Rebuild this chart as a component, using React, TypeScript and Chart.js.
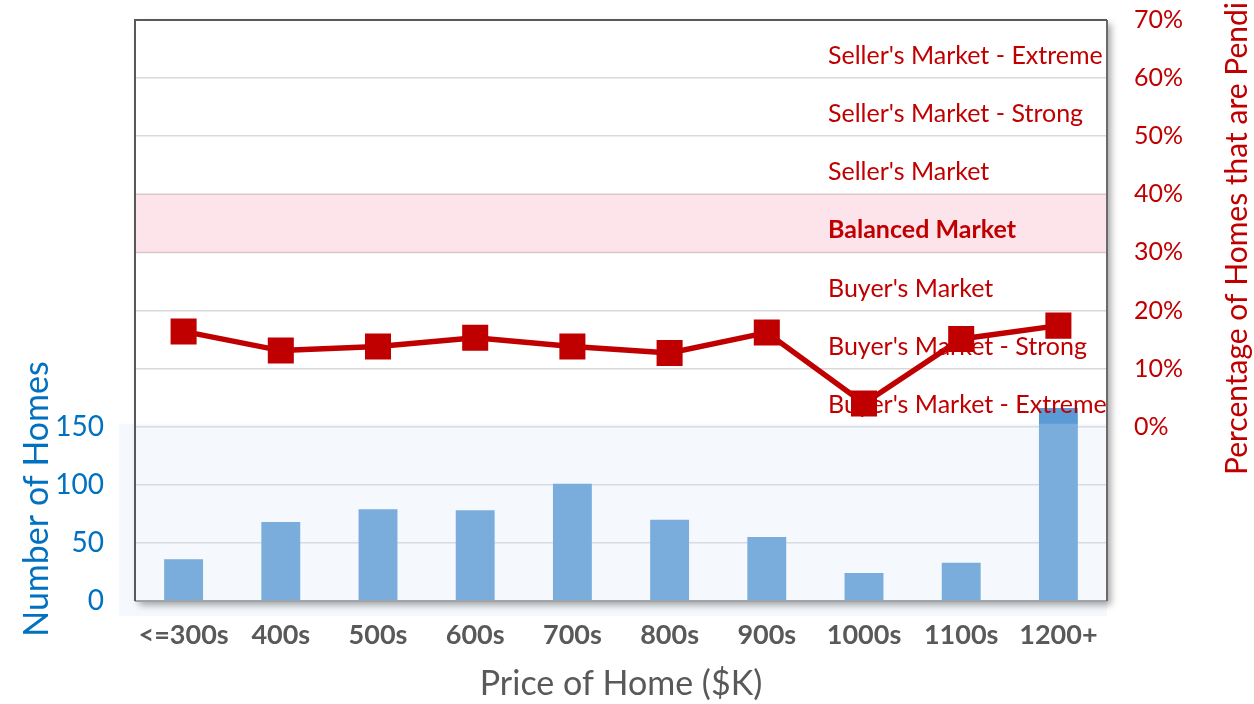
import { useEffect, useRef } from "react";
import { Chart, registerables } from "chart.js";

Chart.register(...registerables);

const categories = ["<=300s", "400s", "500s", "600s", "700s", "800s", "900s", "1000s", "1100s", "1200+"];
const homeCounts = [36, 68, 79, 78, 101, 70, 55, 24, 33, 166];
const pendingPct = [16.4, 13.1, 13.8, 15.3, 13.8, 12.7, 16.2, 4.0, 15.1, 17.4];
const countTicks = [0, 50, 100, 150];
const bandLabels = [
  "Seller's Market - Extreme",
  "Seller's Market - Strong",
  "Seller's Market",
  "Balanced Market",
  "Buyer's Market",
  "Buyer's Market - Strong",
  "Buyer's Market - Extreme",
];
const bandLows = [60, 50, 40, 30, 20, 10, 0];
const balancedLow = 30;
const balancedHigh = 40;

const FONT = "Lato, 'Open Sans', sans-serif";
const RED = "#C00000";
const BLUE = "#0070C0";
const GRAY = "#595959";

const decor = {
  id: "decor",
  beforeDatasetsDraw(chart: any) {
    const { ctx, chartArea: a, scales } = chart;
    const yR = scales.yR;
    const yTop = yR.getPixelForValue(balancedHigh);
    const yBot = yR.getPixelForValue(balancedLow);
    ctx.save();
    ctx.fillStyle = "#FDE4EA";
    ctx.fillRect(a.left, yTop, a.right - a.left, yBot - yTop);
    ctx.strokeStyle = "#DCC6CC";
    ctx.lineWidth = 1.5;
    ctx.beginPath();
    ctx.moveTo(a.left, yTop);
    ctx.lineTo(a.right, yTop);
    ctx.moveTo(a.left, yBot);
    ctx.lineTo(a.right, yBot);
    ctx.stroke();
    ctx.restore();
  },
  afterDatasetDraw(chart: any, args: any) {
    if (args.meta.type !== "bar") return;
    const { ctx, chartArea: a, scales } = chart;
    const yL = scales.yL;
    const yR = scales.yR;
    ctx.save();
    const pTop = yL.getPixelForValue(150) - 3;
    ctx.fillStyle = "rgba(215,227,243,0.25)";
    ctx.fillRect(119, pTop, a.right - 119, a.bottom + 15 - pTop);
    ctx.fillStyle = RED;
    ctx.textAlign = "left";
    ctx.textBaseline = "middle";
    bandLabels.forEach((lab, i) => {
      const mid = bandLows[i] + 5;
      const y = yR.getPixelForValue(mid) + 7;
      ctx.font = (bandLows[i] === balancedLow ? "bold " : "") + "25px " + FONT;
      ctx.fillText(lab, 828, y);
    });
    ctx.restore();
  },
  afterDraw(chart: any) {
    const { ctx, chartArea: a, width: W, height: H } = chart;
    ctx.save();
    ctx.beginPath();
    ctx.rect(0, 0, W, H);
    ctx.rect(a.left, a.top, a.right - a.left, a.bottom - a.top);
    ctx.clip("evenodd");
    ctx.shadowColor = "rgba(0,0,0,0.35)";
    ctx.shadowBlur = 7;
    ctx.shadowOffsetX = 4;
    ctx.shadowOffsetY = 4;
    ctx.fillStyle = "#ffffff";
    ctx.fillRect(a.left, a.top, a.right - a.left, a.bottom - a.top);
    ctx.restore();

    ctx.save();
    ctx.lineWidth = 2;
    ctx.strokeStyle = "#A0A3A8";
    ctx.beginPath();
    ctx.moveTo(a.left, a.bottom);
    ctx.lineTo(a.right, a.bottom);
    ctx.stroke();
    ctx.strokeStyle = "#6A6A6A";
    ctx.beginPath();
    ctx.moveTo(a.right, a.top);
    ctx.lineTo(a.right, a.bottom);
    ctx.stroke();
    ctx.strokeStyle = GRAY;
    ctx.beginPath();
    ctx.moveTo(a.left, a.bottom);
    ctx.lineTo(a.left, a.top);
    ctx.lineTo(a.right, a.top);
    ctx.stroke();

    ctx.textBaseline = "middle";
    ctx.fillStyle = GRAY;
    ctx.textAlign = "center";
    ctx.font = "34px " + FONT;
    ctx.fillText("Price of Home ($K)", (a.left + a.right) / 2, 684);

    ctx.save();
    ctx.translate(37, 499);
    ctx.rotate(-Math.PI / 2);
    ctx.fillStyle = BLUE;
    ctx.font = "34px " + FONT;
    ctx.fillText("Number of Homes", 0, 0);
    ctx.restore();

    ctx.save();
    ctx.translate(1237, 475);
    ctx.rotate(-Math.PI / 2);
    ctx.fillStyle = RED;
    ctx.textAlign = "left";
    ctx.font = "30px " + FONT;
    ctx.fillText("Percentage of Homes that are Pending", 0, 0);
    ctx.restore();

    ctx.restore();
  },
};

const noPad = (s: any) => {
  s.paddingTop = 0;
  s.paddingBottom = 0;
};

export default function App() {
  const ref = useRef<HTMLCanvasElement | null>(null);
  useEffect(() => {
    if (!ref.current) return;
    const chart = new Chart(ref.current, {
      type: "bar",
      data: {
        labels: categories,
        datasets: [
          {
            type: "line",
            label: "Pending %",
            data: pendingPct,
            yAxisID: "yR",
            borderColor: RED,
            backgroundColor: RED,
            borderWidth: 5.5,
            pointStyle: "rect",
            pointRadius: 17,
            pointBorderWidth: 2,
            pointBorderColor: RED,
            pointBackgroundColor: RED,
            order: 1,
          } as any,
          {
            type: "bar",
            label: "Homes",
            data: homeCounts,
            yAxisID: "yL",
            backgroundColor: "#5B9BD5",
            barPercentage: 0.4,
            categoryPercentage: 1,
            order: 2,
          } as any,
        ],
      },
      options: {
        animation: false,
        responsive: true,
        maintainAspectRatio: false,
        layout: { padding: { top: 20, left: 0, right: 0, bottom: 0 } },
        plugins: { legend: { display: false }, tooltip: { enabled: false } },
        scales: {
          x: {
            grid: { display: false },
            border: { display: false },
            ticks: { color: GRAY, font: { family: FONT, size: 27, weight: "bold" }, padding: 10, maxRotation: 0, autoSkip: false },
            afterFit: (s: any) => { s.height = 103; },
          },
          yL: {
            position: "left",
            min: 0,
            max: 500,
            afterBuildTicks: (s: any) => { s.ticks = countTicks.map((v) => ({ value: v })); },
            grid: {
              drawTicks: false,
              color: (c: any) => (c.tick && c.tick.value > 0 ? "#D9D9D9" : "rgba(0,0,0,0)"),
              lineWidth: 1.5,
            },
            border: { display: false },
            ticks: { color: BLUE, font: { family: FONT, size: 28 }, padding: 31 },
            afterFit: (s: any) => { s.width = 135; noPad(s); },
          },
          yR: {
            position: "right",
            min: -30,
            max: 70,
            ticks: {
              stepSize: 10,
              color: RED,
              font: { family: FONT, size: 25 },
              padding: 27,
              callback: (v: any) => (Number(v) >= 0 ? v + "%" : ""),
            },
            grid: {
              drawTicks: false,
              color: (c: any) =>
                c.tick && c.tick.value > 0 && c.tick.value < 70 && c.tick.value !== balancedLow && c.tick.value !== balancedHigh
                  ? "#D9D9D9"
                  : "rgba(0,0,0,0)",
              lineWidth: 1.5,
            },
            border: { display: false },
            afterFit: (s: any) => { s.width = 147; noPad(s); },
          },
        },
      },
      plugins: [decor],
    });
    return () => chart.destroy();
  }, []);
  return (
    <div style={{ position: "absolute", left: 0, top: 0, width: 1254, height: 704, background: "#fff" }}>
      <canvas ref={ref} />
    </div>
  );
}
